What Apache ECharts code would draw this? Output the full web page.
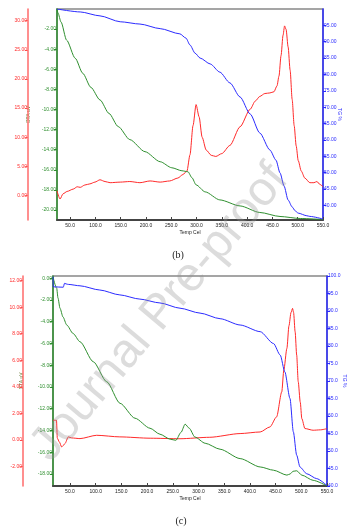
<!DOCTYPE html>
<html><head><meta charset="utf-8">
<script src="https://cdn.jsdelivr.net/npm/echarts@6/dist/echarts.min.js"></script>
<style>html,body{margin:0;padding:0;background:#fff}#c{width:361px;height:532px}</style>
</head><body><div id="c"></div>
<script>
// ---------- tick labels ----------
const xTicks = [50, 100, 150, 200, 250, 300, 350, 400, 450, 500, 550];
const bRedTicks = [0, 5, 10, 15, 20, 25, 30];
const bGreenTicks = [-20, -18, -16, -14, -12, -10, -8, -6, -4, -2];
const bBlueTicks = [40, 45, 50, 55, 60, 65, 70, 75, 80, 85, 90, 95];
const cRedTicks = [-2, 0, 2, 4, 6, 8, 10, 12];
const cGreenTicks = [-18, -16, -14, -12, -10, -8, -6, -4, -2, 0];
const cBlueTicks = [40, 45, 50, 55, 60, 65, 70, 75, 80, 85, 90, 95, 100];

// ---------- panel (b) data ----------
const bRedTemp = [24,30,36,44,56,64,70,79,89,99,109,119,129,149,168,188,208,228,247,263,273,281,287,293,299,305,311,319,329,338,350,366,386,406,416,425,435,445,453,459,463,467,471,474,477,481,485,489,493,497,501,507,514,524,532,538,544,550];
const bRed = [0.8,-0.6,0.3,0.7,1.1,1.5,1.4,1.8,2.0,2.3,2.7,2.4,2.2,2.3,2.4,2.2,2.5,2.3,2.5,3.0,3.6,4.2,7.0,12.0,15.6,13.5,10.0,7.8,6.9,6.7,7.2,8.6,11.8,14.8,16.2,17.0,17.5,17.6,17.8,18.8,20.5,24.0,27.5,29.1,28.5,25.5,21.5,16.5,12.0,8.5,6.0,4.2,3.0,2.2,2.2,2.4,1.9,1.5];
const bBlueTemp = [24,70,109,149,188,228,267,279,287,297,307,327,346,366,386,406,425,445,457,465,473,481,489,495,501,518,524,550];
const bBlue = [100,99.1,97.9,96.1,95.4,94.0,92.4,91.1,89.0,86.5,85.0,83.2,80.7,77.4,73.1,67.9,62.1,56.9,53.8,49.9,45.9,41.6,39.5,38.3,37.6,36.8,36.6,35.8];
const bGreenTemp = [24,26,32,43,60,75,91,109,127,145,168,198,228,251,271,283,291,299,317,346,386,425,465,505,550];
const bGreen = [0,-0.4,-1.3,-3.1,-4.9,-6.4,-7.8,-9.05,-10.4,-11.7,-13.0,-14.2,-15.2,-15.8,-16.1,-16.2,-16.8,-17.5,-18.2,-19.0,-19.6,-20.25,-20.65,-20.85,-20.95];

// ---------- panel (c) data ----------
const cRedTemp = [17,23.8,25.4,29.3,33.9,37.4,40.3,46.8,53.4,69.5,102,147,206,264,322,381,420,439,452,462,466,472,476,480,483,485,488,491,494,498,501,507,523,537,550];
const cRed = [1.48,1.48,0.13,-0.15,-0.53,-0.4,-0.27,0.23,0.15,0.1,0.35,0.23,0.13,0.09,0.2,0.48,0.6,0.98,1.74,3.62,5.26,6.9,8.6,9.6,9.91,9.6,8.15,6.4,4.4,2.84,1.61,0.86,0.73,0.76,0.85];
const cGreenTemp = [17,24.2,26.7,30.6,36.5,43.7,56,69.5,95.4,121.5,147.4,176.5,205.7,225,245,256,266,274,282,293,313,342,381,420,446,472,478,484,491,501,523,550];
const cGreen = [0.1,-0.93,-1.82,-2.76,-3.57,-4.3,-5.08,-5.84,-7.68,-9.52,-11.5,-12.87,-13.79,-14.34,-14.8,-14.9,-14.17,-13.42,-13.79,-14.6,-15.17,-15.72,-16.58,-17.35,-17.65,-18.1,-18.0,-17.75,-17.7,-18.1,-18.58,-19.1];
const cBlueTemp = [17,17.5,37,39.4,40.3,46.8,69.5,108,147,186,225,264,303,342,381,420,446,459,468,478,484.5,491,497.5,510.6,530,550];
const cBlue = [99.8,96.9,96.8,97.9,98.0,97.6,97.2,96.0,94.6,93.4,92.3,90.8,89.4,87.8,86.0,84.1,80.7,77.4,72.6,65.0,55.5,48.8,45.4,43.5,42.1,40.1];

const RED = '#ff2a2a', GREEN = '#2f8f2f', BLUE = '#2b2bff';
const FONT = '"Liberation Sans", Arial, sans-serif';

function pairs(xs, ys) { return xs.map((x, i) => [x, ys[i]]); }

function mkX(gi, min) {
  return {
    type: 'value', gridIndex: gi, min: min, max: 550,
    name: 'Temp Cel', nameLocation: 'middle', nameGap: 10, nameMoveOverlap: false,
    nameTextStyle: { fontSize: 5, color: '#222', fontFamily: FONT },
    axisLine: { onZero: false, lineStyle: { color: '#444', width: 2 } },
    axisTick: { inside: true, length: 3, customValues: xTicks, lineStyle: { color: '#444' } },
    axisLabel: { customValues: xTicks, fontSize: 5, color: '#222', margin: 3, fontFamily: FONT,
                 formatter: v => v.toFixed(1) },
    splitLine: { show: false }
  };
}

function mkY(gi, pos, offset, min, max, ticks, color, lineColor, dec, name, nameGap, nameRotate, nameColor) {
  return {
    type: 'value', gridIndex: gi, position: pos, offset: offset, min: min, max: max,
    name: name || '', nameLocation: 'middle', nameGap: nameGap || 0, nameRotate: nameRotate,
    nameMoveOverlap: false,
    nameTextStyle: { fontSize: 5, color: nameColor || color, fontFamily: FONT },
    axisLine: { show: true, onZero: false, lineStyle: { color: lineColor, width: 1.5 } },
    axisTick: { show: true, length: 3, customValues: ticks, lineStyle: { color: lineColor } },
    axisLabel: { customValues: ticks, fontSize: 5, color: color, margin: 1, fontFamily: FONT,
                 formatter: v => v.toFixed(dec) },
    splitLine: { show: false }
  };
}

function line(xi, yi, data, color) {
  return { type: 'line', xAxisIndex: xi, yAxisIndex: yi, data: data, showSymbol: false,
           smooth: 0.25, smoothMonotone: 'x', lineStyle: { width: 1, color: color }, itemStyle: { color: color } };
}

const chart = echarts.init(document.getElementById('c'), null, { renderer: 'canvas' });
chart.setOption({
  animation: false,
  backgroundColor: '#fff',
  grid: [
    { left: 57, top: 9, width: 266, height: 211, show: true, borderColor: '#888', borderWidth: 1.5, outerBoundsMode: 'none', containLabel: false },
    { left: 53, top: 276, width: 274, height: 210, show: true, borderColor: '#888', borderWidth: 1.5, outerBoundsMode: 'none', containLabel: false }
  ],
  xAxis: [mkX(0, 24), mkX(1, 17)],
  yAxis: [
    mkY(0, 'left', 29, -4.2, 32, bRedTicks, RED, '#ff6a6a', 2, 'DTA uV', -3, 90, '#6b7d3a'),
    mkY(0, 'left', 0, -21, 0, bGreenTicks, GREEN, GREEN, 2),
    mkY(0, 'right', 0, 35.5, 100, bBlueTicks, BLUE, BLUE, 2, 'TG %', 14, -90),
    mkY(1, 'left', 30, -3.47, 12.35, cRedTicks, RED, '#ff6a6a', 2, 'DTA uV', -1, 90, '#6b7d3a'),
    mkY(1, 'left', 0, -19.1, 0.2, cGreenTicks, GREEN, GREEN, 2),
    mkY(1, 'right', 0, 40, 100, cBlueTicks, BLUE, BLUE, 1, 'TG %', 15, -90)
  ],
  series: [
    line(0, 0, pairs(bRedTemp, bRed), RED),
    line(0, 1, pairs(bGreenTemp, bGreen), GREEN),
    line(0, 2, pairs(bBlueTemp, bBlue), BLUE),
    line(1, 3, pairs(cRedTemp, cRed), RED),
    line(1, 4, pairs(cGreenTemp, cGreen), GREEN),
    line(1, 5, pairs(cBlueTemp, cBlue), BLUE)
  ],
  graphic: [
    { type: 'text', x: 178, y: 255, style: { text: '(b)', font: '10px "Liberation Serif", serif', fill: '#222', align: 'center', verticalAlign: 'middle' } },
    { type: 'text', x: 181, y: 521, style: { text: '(c)', font: '10px "Liberation Serif", serif', fill: '#222', align: 'center', verticalAlign: 'middle' } },
    { type: 'text', x: 160, y: 313, rotation: 0.87, z: 100,
      style: { text: 'Journal Pre-proof', font: '48px "Liberation Sans", Arial, sans-serif', fill: 'rgba(150,150,150,0.33)', align: 'center', verticalAlign: 'middle' } }
  ]
});
</script></body></html>
